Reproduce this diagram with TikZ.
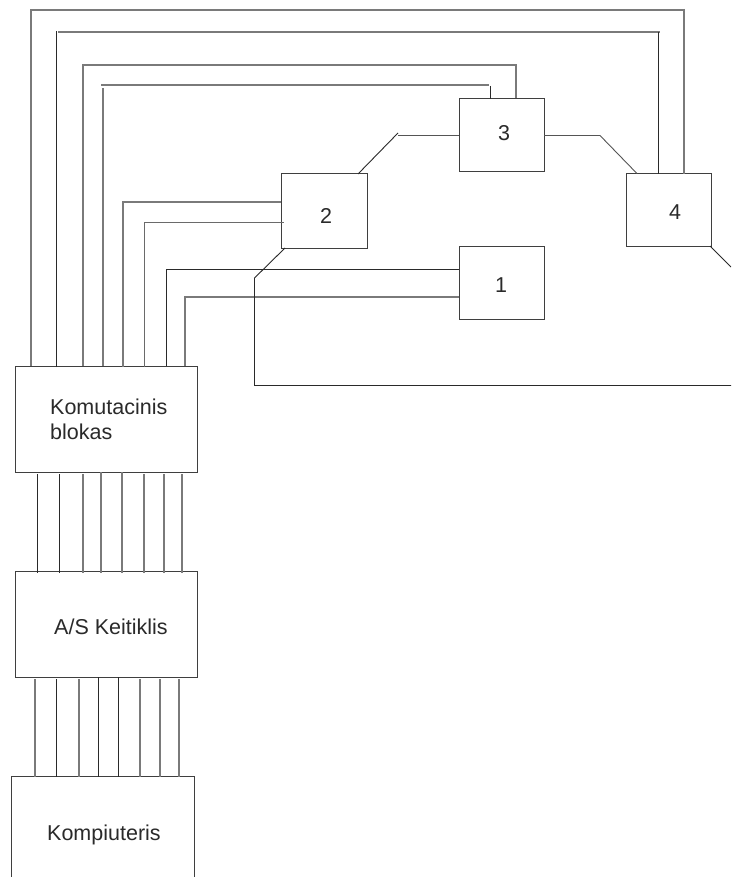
\documentclass[tikz,border=0pt]{standalone}
\usepackage{fontspec}
\setmainfont{Liberation Sans}
\definecolor{inkd}{HTML}{2A2A2A}
\definecolor{inkg}{HTML}{7A7A7A}
\tikzset{
  box/.style={draw=inkd!90,line width=1pt,rectangle,inner sep=0pt,outer sep=0pt},
  lab/.style={text=inkd,inner sep=0pt,font=\fontsize{21.5}{25}\selectfont},
  dw/.style={draw=inkd,line width=0.9pt},
  gw/.style={draw=inkg,line width=1.25pt}
}
\newcommand{\bx}[5]{\node[box,minimum width=#4 pt,minimum height=#5 pt] (#1) at (#2,#3) {};}
\begin{document}
\begin{tikzpicture}[x=1pt,y=-1pt]
\useasboundingbox (0,0) rectangle (731,877);
\clip (0,0) rectangle (731,877);
\fill[white] (0,0) rectangle (731,877);
% boxes
\bx{kom}{106}{419}{182}{106}
\bx{as}{106}{624}{182}{106}
\bx{pc}{102.5}{830}{183}{108}
\bx{b1}{501.5}{282.5}{85}{73}
\bx{b2}{324}{211}{86}{74}
\bx{b3}{501.5}{135.2}{85}{73.5}
\bx{b4}{668.5}{209.8}{85}{72.5}
% labels
\node[lab,anchor=base west] (tkoma) at (50,414) {Komutacinis};
\node[lab,anchor=base west] (tkomb) at (50,439) {blokas};
\node[lab,anchor=base west] (tas) at (54,634) {A/S Keitiklis};
\node[lab,anchor=base west] (tpc) at (47,840) {Kompiuteris};
\node[lab,anchor=base] (t1) at (501,292) {1};
\node[lab,anchor=base] (t2) at (326,224) {2};
\node[lab,anchor=base] (t3) at (504,141) {3};
\node[lab,anchor=base] (t4) at (675,219.5) {4};
% free-end coordinates
\coordinate (e4) at (731,267);
\coordinate (d2a) at (254.5,278);
\coordinate (d2b) at (254.5,385.5);
\coordinate (d2c) at (731,385.5);
\coordinate (d23) at (398,133);
\coordinate (d23h) at (398,135.5);
\coordinate (d34) at (600,135.5);
% buses
\foreach \x/\s/\g in {37.5/dw/2,59.5/dw/2,83/gw/2,101/gw/0,122/gw/0,144/gw/2,164/gw/2,182/gw/2}
  \draw[\s,shorten <=\g pt,shorten >=-2pt] (\x,0 |- kom.south) -- (\x,0 |- as.north);
\foreach \x/\s/\g in {35/gw/2,56.5/dw/2,79/gw/2,98.5/dw/0,118.5/dw/0,140/gw/2,160/gw/2,179/gw/2}
  \draw[\s,shorten <=\g pt,shorten >=-1pt] (\x,0 |- as.south) -- (\x,0 |- pc.north);
% routed wires
\draw[gw] (31,0 |- kom.north) -- (31,10) -- (33,10);
\draw[gw] (33,10) -- (684,10);
\draw[gw] (684,9) -- (684,0 |- b4.north);
\draw[dw,shorten <=-1pt] (56.5,0 |- kom.north) -- (56.5,31);
\draw[gw] (58,32) -- (660,32);
\draw[dw] (658.5,32) -- (658.5,0 |- b4.north);
\draw[gw] (83,0 |- kom.north) -- (83,65) -- (516,65) -- (516,0 |- b3.north);
\draw[gw] (103,0 |- kom.north) -- (103,88);
\draw[gw] (101,85) -- (489,85);
\draw[dw,shorten >=-1pt] (490.5,86) -- (490.5,0 |- b3.north);
\draw[gw,shorten <=-1pt] (123,0 |- kom.north) -- (123,203);
\draw[gw] (122,202) -- (122,202 -| b2.west);
\draw[dw,draw=inkd!70,shorten <=-1pt] (144.5,0 |- kom.north) -- (144.5,222) -- (284,222);
\draw[dw] (166.5,0 |- kom.north) -- (166.5,269.5) -- (166.5,269.5 -| b1.west);
\draw[gw] (185,0 |- kom.north) -- (185,297) -- (185,297 -| b1.west);
% ring
\draw[dw] (285,0 |- b2.south) -- (d2a) -- (d2b) -- (d2c);
\draw[dw] (358,0 |- b2.north) -- (d23);
\draw[dw,draw=inkd!80] (d23h) -- (d23h -| b3.west);
\draw[dw,draw=inkd!80] (b3.east |- d34) -- (d34) -- (637,0 |- b4.north);
\draw[dw] (710,0 |- b4.south) -- (e4);
\end{tikzpicture}
\end{document}
